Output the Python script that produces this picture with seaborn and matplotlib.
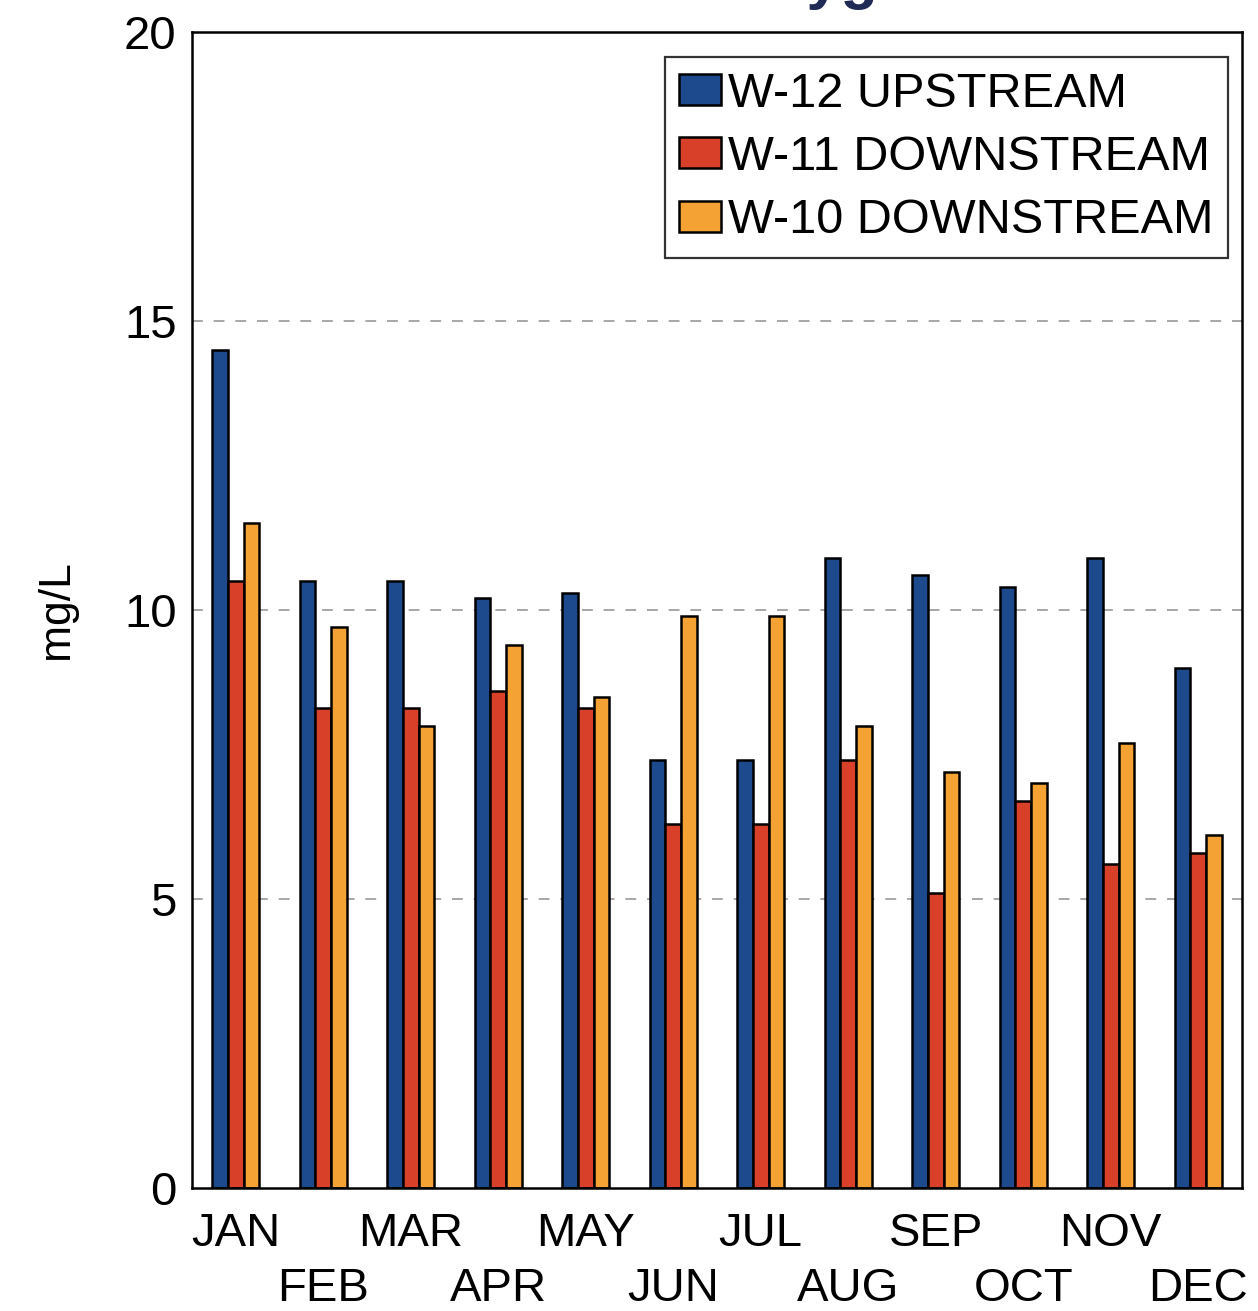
import pandas as pd
import matplotlib
matplotlib.use("Agg")
import matplotlib.pyplot as plt
import seaborn as sns

# Monthly values (mg/L)
months = ["JAN", "FEB", "MAR", "APR", "MAY", "JUN",
          "JUL", "AUG", "SEP", "OCT", "NOV", "DEC"]
w12_upstream = [14.5, 10.5, 10.5, 10.2, 10.3, 7.4, 7.4, 10.9, 10.6, 10.4, 10.9, 9.0]
w11_downstream = [10.5, 8.3, 8.3, 8.6, 8.3, 6.3, 6.3, 7.4, 5.1, 6.7, 5.6, 5.8]
w10_downstream = [11.5, 9.7, 8.0, 9.4, 8.5, 9.9, 9.9, 8.0, 7.2, 7.0, 7.7, 6.1]
series_names = ["W-12 UPSTREAM", "W-11 DOWNSTREAM", "W-10 DOWNSTREAM"]
colors = ["#1d4a8c", "#d8402a", "#f4a234"]

# long format table for seaborn
df = pd.DataFrame({
    "month": months * 3,
    "value": w12_upstream + w11_downstream + w10_downstream,
    "station": [series_names[0]] * 12 + [series_names[1]] * 12 + [series_names[2]] * 12,
})

sns.set_style("white")
plt.rcParams["font.family"] = ["Liberation Sans", "DejaVu Sans"]
plt.rcParams["text.color"] = "black"
plt.rcParams["axes.labelcolor"] = "black"
plt.rcParams["xtick.color"] = "black"
plt.rcParams["ytick.color"] = "black"

fig = plt.figure(figsize=(12.58, 13.11), dpi=100)
ax = fig.add_axes([0.1526, 0.0938, 0.8347, 0.8818])

sns.barplot(data=df, x="month", y="value", hue="station", order=months,
            hue_order=series_names, palette=colors, width=0.54,
            edgecolor="black", linewidth=1.8, saturation=1, ax=ax)

ax.set_ylim(0, 20)
ax.set_xlim(-0.5, 11.5)
ax.set_yticks([0, 5, 10, 15, 20])
ax.tick_params(axis="y", labelsize=34, length=0, pad=11)

# staggered month labels: odd months on major ticks, even months one row lower
ax.set_xticks(range(0, 12, 2))
ax.set_xticklabels(months[0::2], fontsize=34)
ax.set_xticks(range(1, 12, 2), minor=True)
ax.set_xticklabels(months[1::2], minor=True, fontsize=34)
ax.tick_params(axis="x", which="major", length=0, pad=17)
ax.tick_params(axis="x", which="minor", length=0, pad=57)
ax.set_xlabel("")
ax.set_ylabel("mg/L", fontsize=32, labelpad=34)

for y in [5, 10, 15]:
    ax.axhline(y, color="#a0a0a0", linestyle=(0, (6, 6)), linewidth=1.3, zorder=0)

for s in ax.spines.values():
    s.set_visible(True)
    s.set_color("black")
    s.set_linewidth(1.8)

leg = ax.legend(loc="upper right", bbox_to_anchor=(0.9867, 0.9784), fontsize=35,
                frameon=True, fancybox=False, edgecolor="black",
                handlelength=0.85, handleheight=0.6, handletextpad=0.15,
                borderpad=0.3, labelspacing=0.38, borderaxespad=0)
leg.get_frame().set_linewidth(1.6)

# title mostly cut off at the top edge, as in the reference
fig.text(0.544, 1.002, "Dissolved Oxygen", ha="center", va="baseline",
         fontsize=44, fontweight="bold", color="#1f2a55")

fig.savefig("out.png", dpi=100, facecolor="white")
